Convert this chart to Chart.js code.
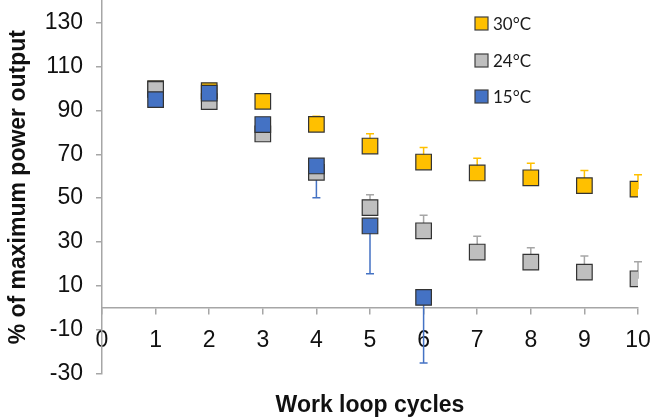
<!DOCTYPE html>
<html>
<head>
<meta charset="utf-8">
<script src="https://cdn.jsdelivr.net/npm/chart.js@4/dist/chart.umd.min.js"></script>
<style>
  html, body { margin: 0; padding: 0; background: #ffffff; }
  #wrap { width: 650px; height: 419px; position: relative; }
</style>
</head>
<body>
<div id="wrap"><canvas id="c" width="650" height="419"></canvas></div>
<script>
// ---- data ----
const cycles = [1, 2, 3, 4, 5, 6, 7, 8, 9, 10];
const seriesNames = ['30°C', '24°C', '15°C'];
const values30 = [100, 99.1, 94.2, 83.7, 73.8, 66.5, 61.5, 59.3, 55.7, 54.1];
const values24 = [99.6, 94.1, 79.3, 61.8, 45.7, 35.1, 25.4, 20.8, 16.2, 13.2];
const values15 = [95.0, 97.9, 83.6, 64.7, 37.3, 4.7];
const errPlus30 = [2, 2, 2.5, 3.7, 5.6, 6.6, 6.7, 6.6, 6.9, 6.6];
const errPlus24 = [2, 2, 2, 2, 5.8, 7.1, 7.2, 6.6, 7.4, 7.8];
const errMinus15 = [2, 2, 2, 14.5, 21.8, 30.0];
const yTicks = [-30, -10, 10, 30, 50, 70, 90, 110, 130];
const xTicks = [0, 1, 2, 3, 4, 5, 6, 7, 8, 9, 10];

const colors = ['#FFC000', '#BFBFBF', '#4472C4'];
const errColors = ['#FFC000', '#A6A6A6', '#4472C4'];
const axisColor = '#A6A6A6';
const textColor = '#111111';

function pts(vals) { return vals.map((v, i) => ({ x: cycles[i], y: v })); }

const errorBarPlugin = {
  id: 'errorBars',
  beforeDatasetsDraw(chart) {
    const { ctx } = chart;
    const xs = chart.scales.x, ys = chart.scales.y;
    chart.data.datasets.forEach((ds, i) => {
      ctx.save();
      ctx.strokeStyle = errColors[i];
      ctx.lineWidth = 1.5;
      ds.data.forEach((p, j) => {
        const px = xs.getPixelForValue(p.x);
        const py = ys.getPixelForValue(p.y);
        const segs = [];
        if (ds.errPlus) segs.push(ys.getPixelForValue(p.y + ds.errPlus[j]));
        if (ds.errMinus) segs.push(ys.getPixelForValue(p.y - ds.errMinus[j]));
        segs.forEach(end => {
          ctx.beginPath();
          ctx.moveTo(px, py);
          ctx.lineTo(px, end);
          ctx.moveTo(px - 4, end);
          ctx.lineTo(px + 4, end);
          ctx.stroke();
        });
      });
      ctx.restore();
    });
  }
};

const legendPlugin = {
  id: 'cornerLegend',
  afterDraw(chart) {
    const { ctx } = chart;
    ctx.save();
    const ys = [24, 61, 97];
    chart.data.datasets.forEach((ds, i) => {
      ctx.fillStyle = ds.backgroundColor;
      ctx.strokeStyle = '#404040';
      ctx.lineWidth = 1.2;
      ctx.fillRect(475, ys[i] - 7, 13, 13);
      ctx.strokeRect(475, ys[i] - 7, 13, 13);
      ctx.fillStyle = '#1a1a1a';
      ctx.font = '17px Lato';
      ctx.textBaseline = 'middle';
      ctx.fillText(ds.label, 493, ys[i] + 0.5);
    });
    ctx.restore();
  }
};

const ds = (label, vals, idx, extra) => Object.assign({
  label: label,
  data: pts(vals),
  backgroundColor: colors[idx],
  borderColor: '#333333',
  borderWidth: 1.2,
  pointStyle: 'rect',
  pointRadius: 11,
  pointHoverRadius: 11,
  showLine: false
}, extra);

const zeroPad = s => { s.paddingTop = 0; s.paddingBottom = 0; s.paddingLeft = 0; s.paddingRight = 0; };

new Chart(document.getElementById('c'), {
  type: 'scatter',
  data: {
    datasets: [
      ds(seriesNames[0], values30, 0, { errPlus: errPlus30, order: 2 }),
      ds(seriesNames[1], values24, 1, { errPlus: errPlus24, order: 1 }),
      ds(seriesNames[2], values15, 2, { errMinus: errMinus15, order: 0 })
    ]
  },
  options: {
    responsive: false,
    animation: false,
    events: [],
    layout: { autoPadding: false, padding: { left: 0, right: 12, top: 1, bottom: 0 } },
    plugins: {
      legend: { display: false },
      tooltip: { enabled: false },
      title: {
        display: true,
        position: 'bottom',
        fullSize: false,
        text: 'Work loop cycles',
        color: textColor,
        font: { family: 'Liberation Sans', size: 23, weight: 'bold' },
        padding: { top: 18, bottom: 0 }
      }
    },
    scales: {
      x: {
        type: 'linear',
        position: { y: 0 },
        min: 0, max: 10,
        afterBuildTicks: s => { s.ticks = xTicks.map(v => ({ value: v })); },
        afterFit: zeroPad,
        ticks: {
          color: textColor,
          font: { family: 'Liberation Sans', size: 23 },
          padding: 13,
          maxRotation: 0
        },
        grid: { display: true, drawOnChartArea: false, drawTicks: true, tickLength: 6, color: axisColor, lineWidth: 1.5 },
        border: { display: true, color: axisColor, width: 1.5 }
      },
      y: {
        type: 'linear',
        position: 'left',
        min: -30, max: 140,
        afterBuildTicks: s => { s.ticks = yTicks.map(v => ({ value: v })); },
        afterFit: s => { s.width = 102; zeroPad(s); },
        ticks: {
          color: textColor,
          font: { family: 'Liberation Sans', size: 23 },
          padding: 13
        },
        grid: { display: true, drawOnChartArea: false, drawTicks: true, tickLength: 6, color: axisColor, lineWidth: 1.5 },
        border: { display: true, color: axisColor, width: 1.5 },
        title: {
          display: true,
          text: '% of maximum power output',
          color: textColor,
          font: { family: 'Liberation Sans', size: 23, weight: 'bold' },
          padding: { top: 5, bottom: 0 }
        }
      }
    }
  },
  plugins: [errorBarPlugin, legendPlugin]
});
</script>
</body>
</html>
